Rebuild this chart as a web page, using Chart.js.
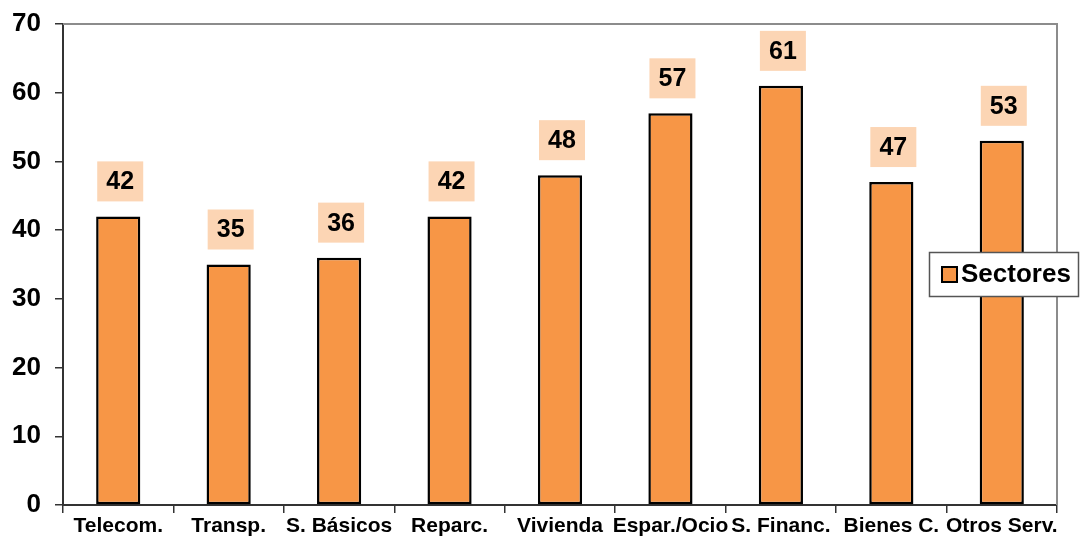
<!DOCTYPE html>
<html>
<head>
<meta charset="utf-8">
<script src="https://cdn.jsdelivr.net/npm/chart.js@4"></script>
<style>
  body { margin: 0; background: #fff; }
  #wrap { width: 1080px; height: 540px; }
</style>
</head>
<body>
<div id="wrap"><canvas id="chart"></canvas></div>
<script>
// Data
const categories = ['Telecom.', 'Transp.', 'S. Básicos', 'Reparc.', 'Vivienda', 'Espar./Ocio', 'S. Financ.', 'Bienes C.', 'Otros Serv.'];
const sectores = [42, 35, 36, 42, 48, 57, 61, 47, 53];
const yTicks = [0, 10, 20, 30, 40, 50, 60, 70];

const FONT = "'Liberation Sans', Arial, sans-serif";
const ORANGE = '#F79646';
const PEACH = '#FCD5B4';

// Value boxes above each bar
const valueLabels = {
    id: 'valueLabels',
    afterDatasetsDraw(chart) {
        const ctx = chart.ctx;
        const meta = chart.getDatasetMeta(0);
        ctx.save();
        ctx.font = `bold 25px ${FONT}`;
        ctx.textAlign = 'center';
        ctx.textBaseline = 'middle';
        meta.data.forEach((bar, i) => {
            const cx = bar.x + 2;
            const cy = bar.y - 35;
            ctx.fillStyle = PEACH;
            ctx.fillRect(cx - 23, cy - 20, 46, 40);
            ctx.fillStyle = '#000';
            ctx.fillText(String(chart.data.datasets[0].data[i]), cx, cy + 1);
        });
        ctx.restore();
    }
};

// Top/right frame and the boxed legend
const frameAndLegend = {
    id: 'frameAndLegend',
    afterDraw(chart) {
        const { ctx, chartArea: a } = chart;
        ctx.save();
        ctx.strokeStyle = '#8c8c8c';
        ctx.lineWidth = 2;
        ctx.beginPath();
        ctx.moveTo(a.left, a.top);
        ctx.lineTo(a.right, a.top);
        ctx.lineTo(a.right, a.bottom);
        ctx.stroke();

        // legend
        const lx = 929, ly = 252, lw = 150, lh = 45;
        ctx.fillStyle = '#fff';
        ctx.fillRect(lx, ly, lw, lh);
        ctx.strokeStyle = '#555';
        ctx.lineWidth = 1.5;
        ctx.strokeRect(lx + 0.5, ly + 0.5, lw - 1, lh - 1);
        ctx.fillStyle = ORANGE;
        ctx.fillRect(942, 267, 15, 15);
        ctx.strokeStyle = '#000';
        ctx.lineWidth = 2;
        ctx.strokeRect(942, 267, 15, 15);
        ctx.fillStyle = '#000';
        ctx.font = `bold 26px ${FONT}`;
        ctx.textAlign = 'left';
        ctx.textBaseline = 'middle';
        ctx.fillText(chart.data.datasets[0].label, 961, 275);
        ctx.restore();
    }
};

new Chart(document.getElementById('chart'), {
    type: 'bar',
    data: {
        labels: categories,
        datasets: [{
            label: 'Sectores',
            data: sectores,
            backgroundColor: ORANGE,
            borderColor: '#000',
            borderWidth: 2.5,
            borderSkipped: false,
            barPercentage: 0.8,
            categoryPercentage: 0.5
        }]
    },
    options: {
        responsive: true,
        maintainAspectRatio: false,
        animation: false,
        layout: { padding: { top: 24, right: 23, left: 0, bottom: 0 } },
        plugins: {
            legend: { display: false },
            tooltip: { enabled: false }
        },
        scales: {
            x: {
                grid: { offset: true, drawOnChartArea: false, tickLength: 8, color: '#333', lineWidth: 1.5 },
                border: { color: '#333', width: 2 },
                ticks: {
                    color: '#000',
                    font: { family: FONT, size: 21, weight: 'bold' },
                    maxRotation: 0,
                    autoSkip: false,
                    padding: 1
                },
                afterFit(scale) {
                    scale.height = 35;
                    scale.paddingLeft = 0;
                    scale.paddingRight = 0;
                }
            },
            y: {
                min: 0,
                max: 70,
                afterBuildTicks(scale) { scale.ticks = yTicks.map(v => ({ value: v })); },
                grid: { drawOnChartArea: false, tickLength: 8, color: '#333', lineWidth: 1.5 },
                border: { color: '#333', width: 2 },
                ticks: {
                    color: '#000',
                    font: { family: FONT, size: 26, weight: 'bold' },
                    padding: 14
                },
                afterFit(scale) {
                    scale.width = 63;
                    scale.paddingTop = 0;
                    scale.paddingBottom = 0;
                }
            }
        }
    },
    plugins: [valueLabels, frameAndLegend]
});
</script>
</body>
</html>
